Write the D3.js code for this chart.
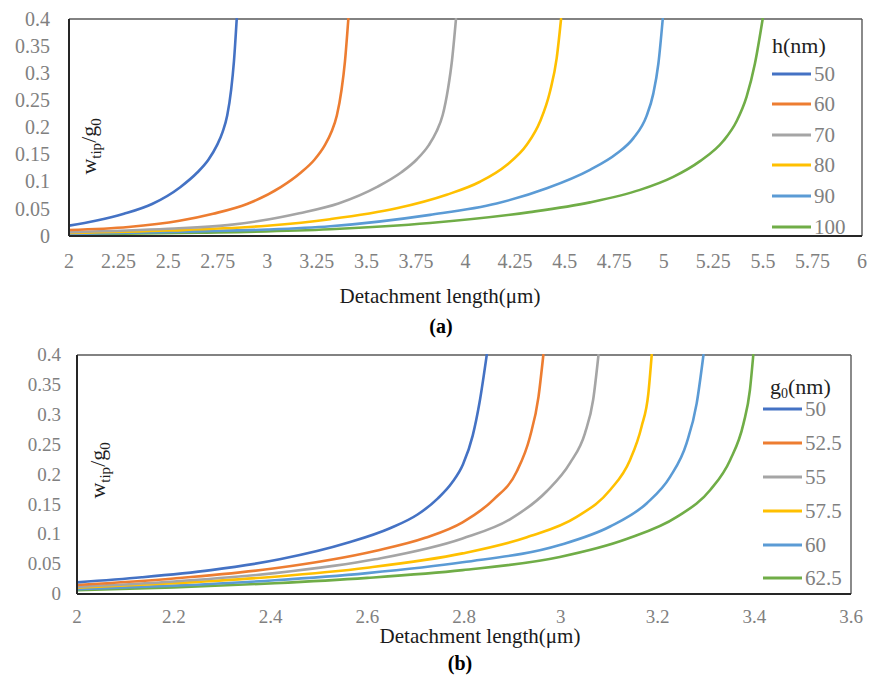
<!DOCTYPE html>
<html>
<head>
<meta charset="utf-8">
<script src="https://cdn.jsdelivr.net/npm/d3@7"></script>
</head>
<body style="margin:0">
<div id="chart" style="position:relative;width:869px;height:675px;overflow:hidden;background:#fff"></div>
<script>
// ---------- Panel (a): deflection ratio vs detachment length for different h ----------
const seriesNamesA = ["50", "60", "70", "80", "90", "100"];
const lengthA_h50  = [2.0, 2.134, 2.277, 2.419, 2.561, 2.647, 2.704, 2.746, 2.775, 2.798, 2.818, 2.832, 2.846];
const ratioA_h50   = [0.019, 0.028, 0.041, 0.059, 0.090, 0.117, 0.141, 0.167, 0.192, 0.222, 0.270, 0.322, 0.4];
const lengthA_h60  = [2.0, 2.3, 2.557, 2.727, 2.898, 3.068, 3.170, 3.239, 3.290, 3.324, 3.351, 3.375, 3.392, 3.409];
const ratioA_h60   = [0.011, 0.0165, 0.028, 0.041, 0.059, 0.090, 0.117, 0.141, 0.167, 0.192, 0.222, 0.270, 0.322, 0.4];
const lengthA_h70  = [2.0, 2.5, 2.8, 2.964, 3.162, 3.359, 3.557, 3.675, 3.754, 3.814, 3.853, 3.885, 3.912, 3.932, 3.952];
const ratioA_h70   = [0.007, 0.0135, 0.020, 0.028, 0.042, 0.060, 0.091, 0.117, 0.141, 0.167, 0.192, 0.223, 0.272, 0.324, 0.4];
const lengthA_h80  = [2.0, 2.5, 3.0, 3.317, 3.653, 3.905, 4.073, 4.208, 4.309, 4.376, 4.426, 4.460, 4.482];
const ratioA_h80   = [0.0055, 0.010, 0.019, 0.031, 0.051, 0.076, 0.100, 0.131, 0.168, 0.211, 0.266, 0.328, 0.4];
const lengthA_h90  = [2.0, 2.652, 3.0, 3.317, 3.821, 4.157, 4.410, 4.628, 4.763, 4.846, 4.914, 4.947, 4.973, 4.995];
const ratioA_h90   = [0.004, 0.0085, 0.012, 0.018, 0.039, 0.060, 0.088, 0.122, 0.152, 0.180, 0.222, 0.262, 0.318, 0.4];
const lengthA_h100 = [2.0, 2.652, 3.317, 3.821, 4.325, 4.628, 4.880, 5.048, 5.183, 5.300, 5.368, 5.418, 5.460, 5.499];
const ratioA_h100  = [0.003, 0.006, 0.0125, 0.024, 0.044, 0.062, 0.085, 0.109, 0.138, 0.175, 0.212, 0.257, 0.318, 0.4];
const xTicksA = [2, 2.25, 2.5, 2.75, 3, 3.25, 3.5, 3.75, 4, 4.25, 4.5, 4.75, 5, 5.25, 5.5, 5.75, 6];
const xTickLabelsA = ["2", "2.25", "2.5", "2.75", "3", "3.25", "3.5", "3.75", "4", "4.25", "4.5", "4.75", "5", "5.25", "5.5", "5.75", "6"];

// ---------- Panel (b): deflection ratio vs detachment length for different g0 ----------
const seriesNamesB = ["50", "52.5", "55", "57.5", "60", "62.5"];
const lengthB_g50   = [2.0, 2.134, 2.277, 2.419, 2.561, 2.647, 2.704, 2.746, 2.775, 2.798, 2.818, 2.832, 2.847];
const ratioB_g50    = [0.0195, 0.028, 0.040, 0.058, 0.086, 0.110, 0.133, 0.160, 0.186, 0.217, 0.265, 0.320, 0.4];
const lengthB_g525  = [2.0, 2.2, 2.409, 2.616, 2.72, 2.797, 2.861, 2.909, 2.936, 2.954, 2.964];
const ratioB_g525   = [0.015, 0.026, 0.043, 0.072, 0.094, 0.120, 0.158, 0.205, 0.262, 0.330, 0.4];
const lengthB_g55   = [2.0, 2.2, 2.409, 2.616, 2.797, 2.895, 2.971, 3.019, 3.050, 3.067, 3.078];
const ratioB_g55    = [0.012, 0.021, 0.035, 0.058, 0.093, 0.125, 0.172, 0.219, 0.269, 0.325, 0.4];
const lengthB_g575  = [2.0, 2.2, 2.409, 2.6, 2.797, 2.930, 3.033, 3.102, 3.143, 3.167, 3.181, 3.188];
const ratioB_g575   = [0.0105, 0.018, 0.029, 0.044, 0.068, 0.095, 0.129, 0.174, 0.224, 0.280, 0.335, 0.4];
const lengthB_g60   = [2.0, 2.2, 2.409, 2.6, 2.797, 2.998, 3.102, 3.178, 3.226, 3.260, 3.281, 3.295];
const ratioB_g60    = [0.008, 0.014, 0.023, 0.035, 0.053, 0.082, 0.113, 0.152, 0.196, 0.252, 0.319, 0.4];
const lengthB_g625  = [2.0, 2.2, 2.409, 2.6, 2.797, 2.998, 3.136, 3.240, 3.309, 3.350, 3.378, 3.391, 3.398];
const ratioB_g625   = [0.0065, 0.011, 0.018, 0.027, 0.040, 0.062, 0.092, 0.129, 0.174, 0.224, 0.286, 0.341, 0.4];
const xTicksB = [2, 2.2, 2.4, 2.6, 2.8, 3, 3.2, 3.4, 3.6];
const xTickLabelsB = ["2", "2.2", "2.4", "2.6", "2.8", "3", "3.2", "3.4", "3.6"];

// Shared y ticks
const yTicks = [0, 0.05, 0.1, 0.15, 0.2, 0.25, 0.3, 0.35, 0.4];
const yTickLabels = ["0", "0.05", "0.1", "0.15", "0.2", "0.25", "0.3", "0.35", "0.4"];

// Office palette
const palette = ["#4472C4", "#ED7D31", "#A5A5A5", "#FFC000", "#5B9BD5", "#70AD47"];
const FACE = '"Liberation Serif", "Times New Roman", Tinos, serif';
const ASC = 0.8375; // baseline offset inside a 1em line box for this face

const zip = (xs, ys) => xs.map((x, i) => ({ x: x, y: ys[i] }));
const seriesA = [
  zip(lengthA_h50, ratioA_h50), zip(lengthA_h60, ratioA_h60), zip(lengthA_h70, ratioA_h70),
  zip(lengthA_h80, ratioA_h80), zip(lengthA_h90, ratioA_h90), zip(lengthA_h100, ratioA_h100)
];
const seriesB = [
  zip(lengthB_g50, ratioB_g50), zip(lengthB_g525, ratioB_g525), zip(lengthB_g55, ratioB_g55),
  zip(lengthB_g575, ratioB_g575), zip(lengthB_g60, ratioB_g60), zip(lengthB_g625, ratioB_g625)
];

const chart = d3.select("#chart");
const svg = chart.append("svg").attr("width", 869).attr("height", 675)
  .style("position", "absolute").style("left", "0px").style("top", "0px");

// text is laid over the svg as positioned spans; (x, baseline) like svg text
function label(x, baseline, size, fill, anchor, parts) {
  const shift = anchor === "middle" ? "-50%" : anchor === "end" ? "-100%" : "0";
  const s = chart.append("span")
    .style("position", "absolute")
    .style("left", x + "px")
    .style("top", (baseline - ASC * size) + "px")
    .style("font-family", FACE)
    .style("font-size", size + "px")
    .style("line-height", size + "px")
    .style("white-space", "nowrap")
    .style("color", fill)
    .style("transform", `translateX(${shift})`);
  addParts(s, parts);
  return s;
}
function addParts(s, parts) {
  (Array.isArray(parts) ? parts : [parts]).forEach(pt => {
    if (typeof pt === "string") s.append("span").text(pt);
    else s.append("span").style("font-size", pt.size + "px").style("line-height", "0")
      .style("vertical-align", -pt.drop + "px").text(pt.sub);
  });
}

function drawPanel(p) {
  const g = svg.append("g");
  const x = d3.scaleLinear().domain(p.xDomain).range([p.left, p.right]);
  const y = d3.scaleLinear().domain([0, 0.4]).range([p.bottom, p.top]);

  // clip region for the curves
  g.append("clipPath").attr("id", p.id + "-clip")
    .append("rect")
    .attr("x", p.left).attr("y", p.top - 1)
    .attr("width", p.right - p.left).attr("height", p.bottom - p.top + 1);

  // plot frame: lighter top/right edges
  g.append("line").attr("x1", p.left).attr("x2", p.right).attr("y1", p.top).attr("y2", p.top)
    .attr("stroke", "#595959").attr("stroke-width", 1.4);
  g.append("line").attr("x1", p.right).attr("x2", p.right).attr("y1", p.top).attr("y2", p.bottom)
    .attr("stroke", "#595959").attr("stroke-width", 1.4);

  // curves
  const line = d3.line().x(d => x(d.x)).y(d => y(d.y)).curve(d3.curveMonotoneX);
  g.append("g").attr("clip-path", `url(#${p.id}-clip)`)
    .selectAll("path").data(p.series.slice().reverse()).join("path")
    .attr("d", line)
    .attr("fill", "none")
    .attr("stroke", (d, i) => palette[p.series.length - 1 - i])
    .attr("stroke-width", 2.6)
    .attr("stroke-linecap", "round");

  // darker axis lines
  g.append("line").attr("x1", p.left).attr("x2", p.left).attr("y1", p.top).attr("y2", p.bottom)
    .attr("stroke", "#262626").attr("stroke-width", 2);
  g.append("line").attr("x1", p.left).attr("x2", p.right).attr("y1", p.bottom).attr("y2", p.bottom)
    .attr("stroke", "#262626").attr("stroke-width", 2);

  // tick labels positioned by the scales
  p.xTicks.forEach((t, i) => {
    label(x(t), p.bottom + p.xPad + 0.71 * p.tickFont, p.tickFont, "#808080", "middle", p.xTickLabels[i]);
  });
  yTicks.forEach((t, i) => {
    label(p.left - p.yPad, y(t) + 0.32 * p.tickFont, p.tickFont, "#808080", "end", yTickLabels[i]);
  });

  // y-axis label w_tip / g_0, rotated about the centre of its baseline
  const yl = label(p.ylabX, p.ylabY, 22, "#1f1f1f", "start",
    ["w", { sub: "tip", size: 15, drop: 5 }, "/g", { sub: "0", size: 15, drop: 5 }]);
  yl.style("transform-origin", `0px ${ASC * 22}px`)
    .style("transform", "rotate(-90deg) translateX(-50%)");

  // x-axis title and panel tag
  label(p.titleX, p.titleY, 21, "#1a1a1a", "middle", "Detachment length(μm)");
  label(p.tagX, p.tagY, 20, "#000000", "middle", p.tag).style("font-weight", "bold");

  // legend
  const titleParts = p.legSub
    ? [p.legSym, { sub: p.legSub, size: 14, drop: 4 }, "(nm)"]
    : [p.legSym + "(nm)"];
  label(p.legTitleX, p.legTitleY, p.legTitleFont, "#1f1f1f", "start", titleParts);
  p.names.forEach((name, i) => {
    const yy = p.legY[i];
    g.append("line").attr("x1", p.legX1).attr("x2", p.legX2).attr("y1", yy).attr("y2", yy)
      .attr("stroke", palette[i]).attr("stroke-width", 3);
    label(p.legX2 + 3, yy + 0.35 * 21, 21, "#808080", "start", name);
  });
}

drawPanel({
  id: "pa", series: seriesA, names: seriesNamesA,
  xDomain: [2, 6], left: 69, right: 862, top: 19, bottom: 236,
  xTicks: xTicksA, xTickLabels: xTickLabelsA, tickFont: 20, xPad: 18, yPad: 19,
  ylabX: 96, ylabY: 146,
  titleX: 440, titleY: 304, tag: "(a)", tagX: 441, tagY: 333,
  legSym: "h", legSub: null, legTitleX: 772, legTitleY: 53, legTitleFont: 22,
  legX1: 772, legX2: 811, legY: [74, 104, 135, 165, 196, 227]
});

drawPanel({
  id: "pb", series: seriesB, names: seriesNamesB,
  xDomain: [2, 3.6], left: 77, right: 851, top: 355, bottom: 594,
  xTicks: xTicksB, xTickLabels: xTickLabelsB, tickFont: 19, xPad: 15, yPad: 16,
  ylabX: 105, ylabY: 470,
  titleX: 480, titleY: 644, tag: "(b)", tagX: 460, tagY: 670,
  legSym: "g", legSub: "0", legTitleX: 770, legTitleY: 394, legTitleFont: 22,
  legX1: 763, legX2: 802, legY: [409, 443, 477, 511, 545, 578]
});
</script>
</body>
</html>
